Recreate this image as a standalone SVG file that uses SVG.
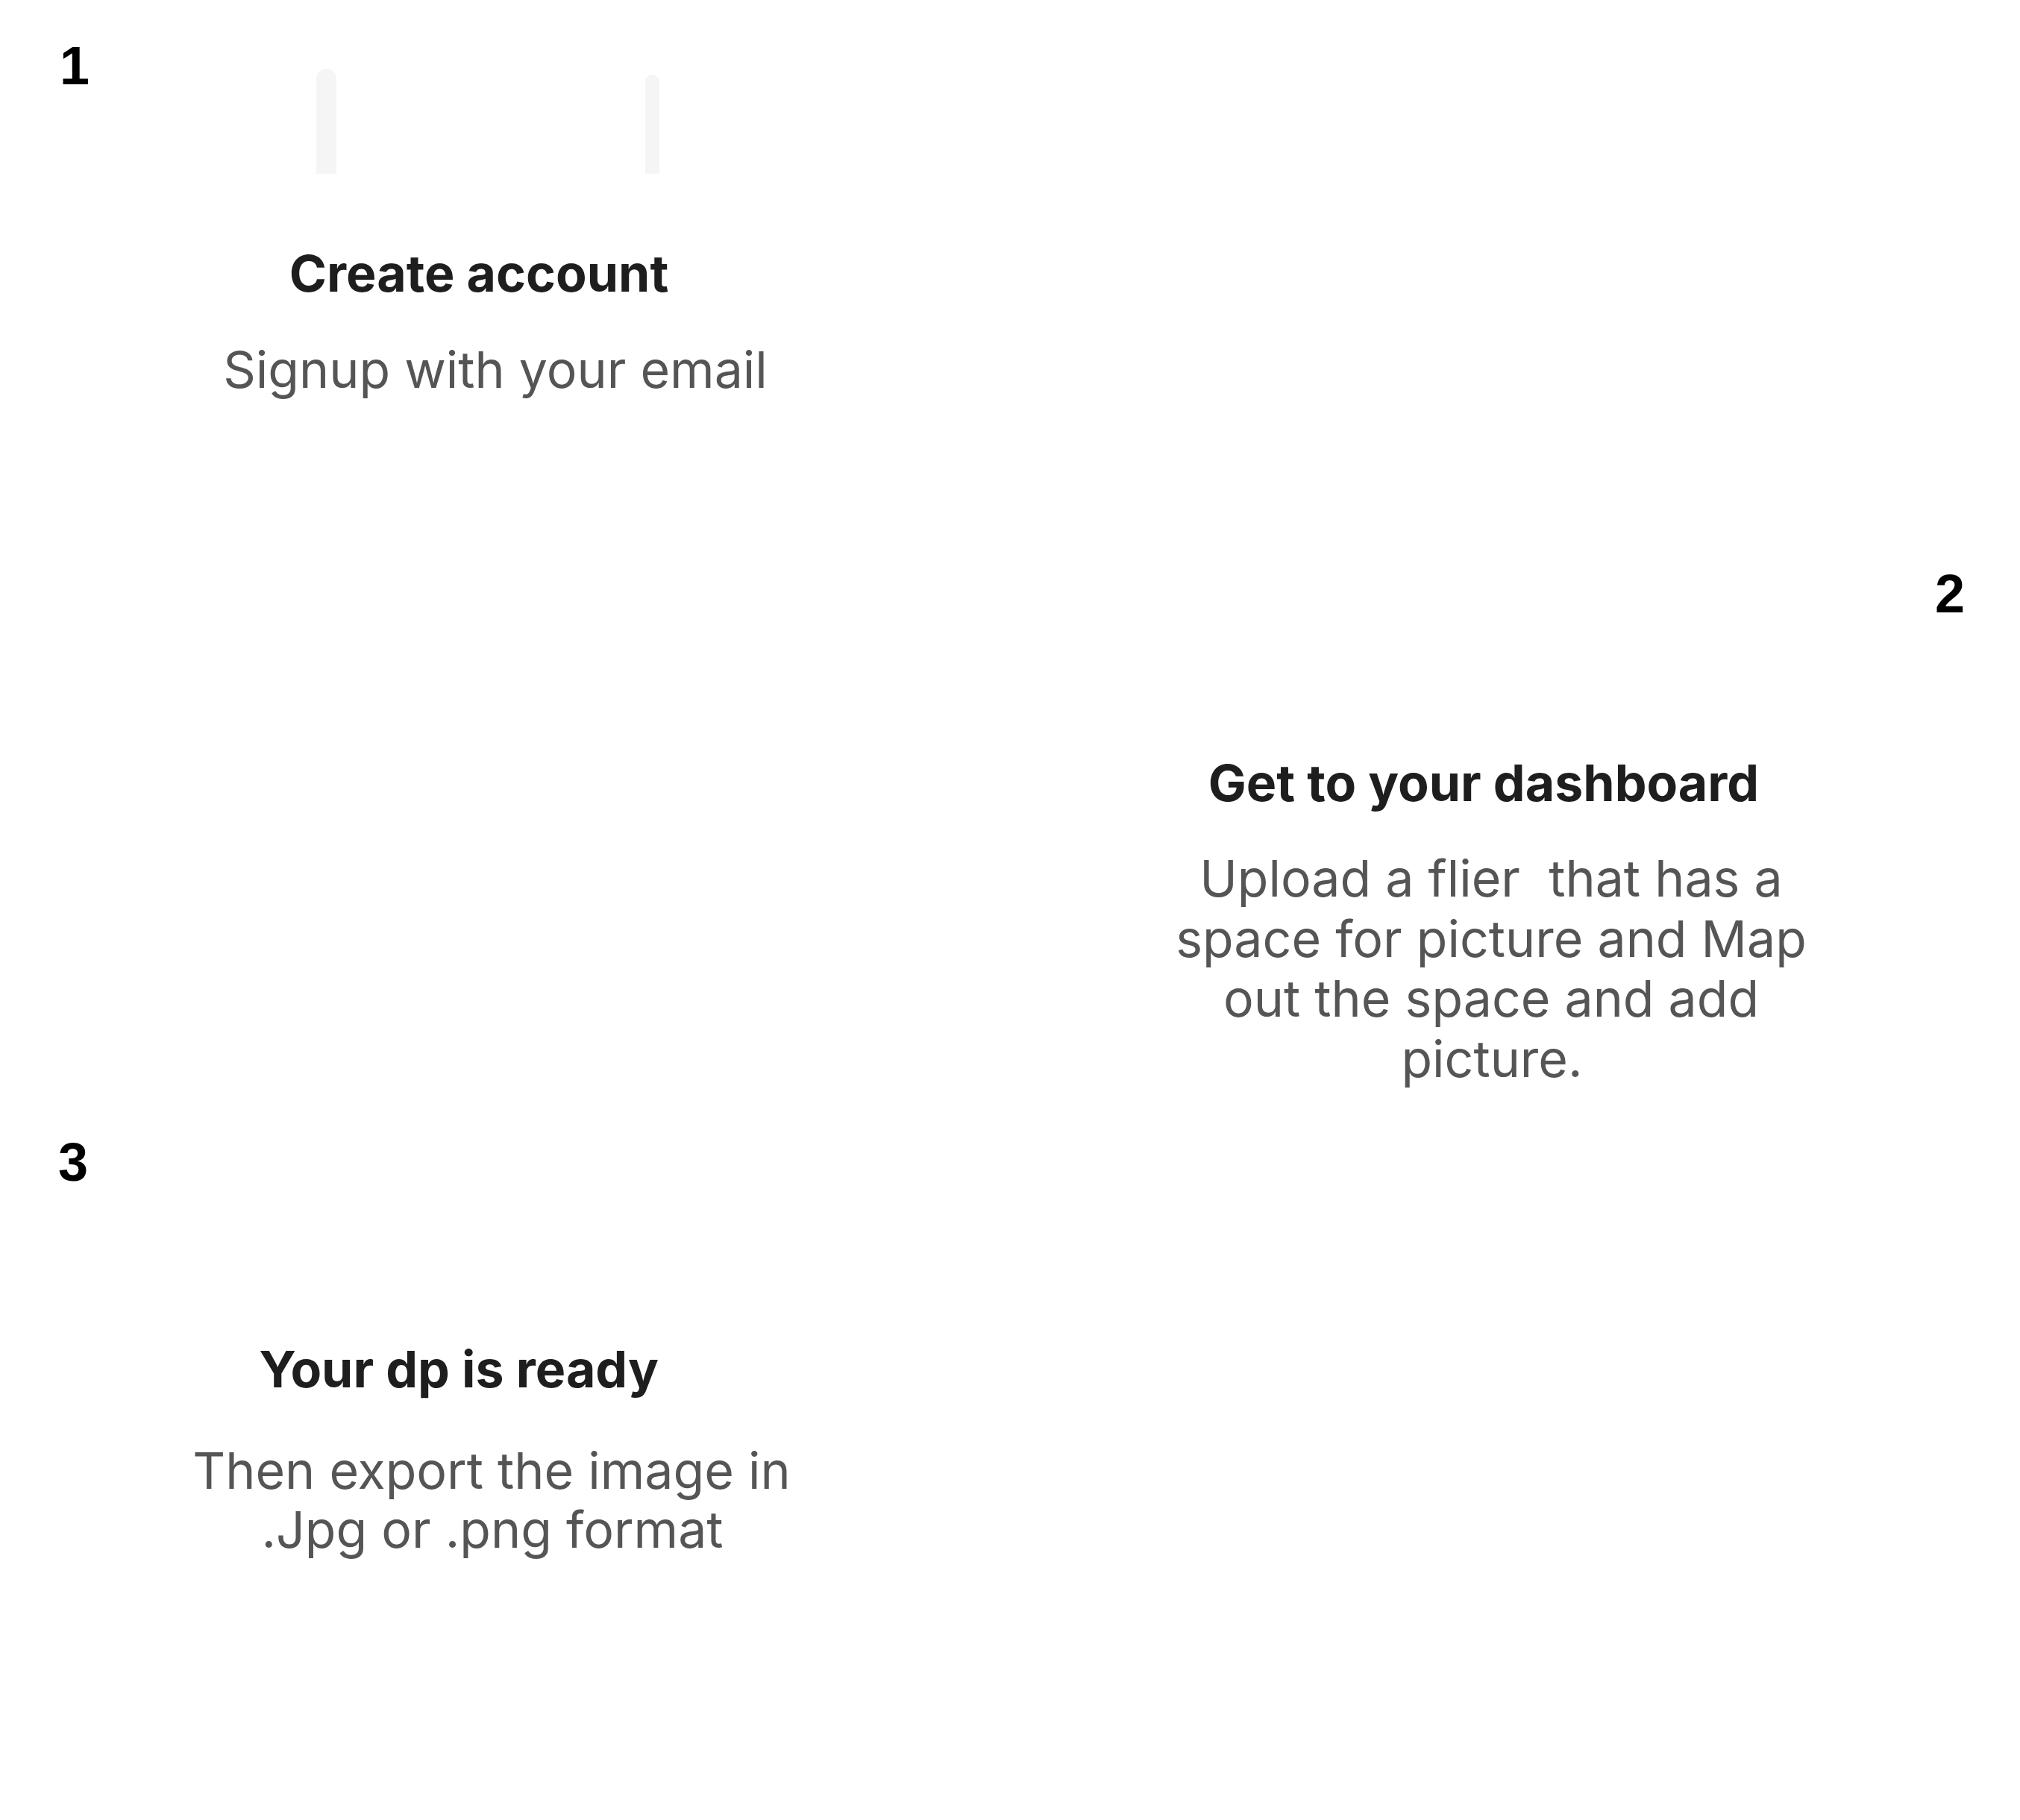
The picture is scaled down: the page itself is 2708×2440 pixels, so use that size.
<svg xmlns="http://www.w3.org/2000/svg" width="2708" height="2440" viewBox="0 0 2708 2440">
<style>
.num{font-family:"Liberation Sans",Arial,sans-serif;font-weight:700;font-size:72px;fill:#000}
.title{font-family:Inter,"Open Sans",sans-serif;font-weight:700;font-size:68px;fill:#1e1e1e;text-anchor:middle}
.body{font-family:Inter,"Open Sans",sans-serif;font-weight:400;font-size:68px;fill:#555;text-anchor:middle;white-space:pre}
.bar{fill:#f5f5f5}
</style>
<rect width="2708" height="2440" fill="#fff"/>
<g id="connectors"/>
<g id="step1">
<path class="bar" d="M424,233 V105.5 A13.5,13.5 0 0 1 451,105.5 V233 Z"/>
<path class="bar" d="M865,233 V109.5 A9.5,9.5 0 0 1 884,109.5 V233 Z"/>
<text class="num" x="80" y="113">1</text>
<text class="title" x="642" y="391">Create account</text>
<text class="body" x="664" y="520">Signup with your email</text>
</g>
<g id="step2">
<text class="num" x="2594" y="821">2</text>
<text class="title" x="1989" y="1074">Get to your dashboard</text>
<text class="body" xml:space="preserve" x="1999" y="1202">Upload a flier  that has a</text>
<text class="body" x="1999" y="1283">space for picture and Map</text>
<text class="body" x="1999" y="1363">out the space and add</text>
<text class="body" x="2000" y="1444">picture.</text>
</g>
<g id="step3">
<text class="num" x="78" y="1583">3</text>
<text class="title" x="615" y="1860">Your dp is ready</text>
<text class="body" x="659" y="1996">Then export the image in</text>
<text class="body" x="660" y="2075">.Jpg or .png format</text>
</g>
</svg>
